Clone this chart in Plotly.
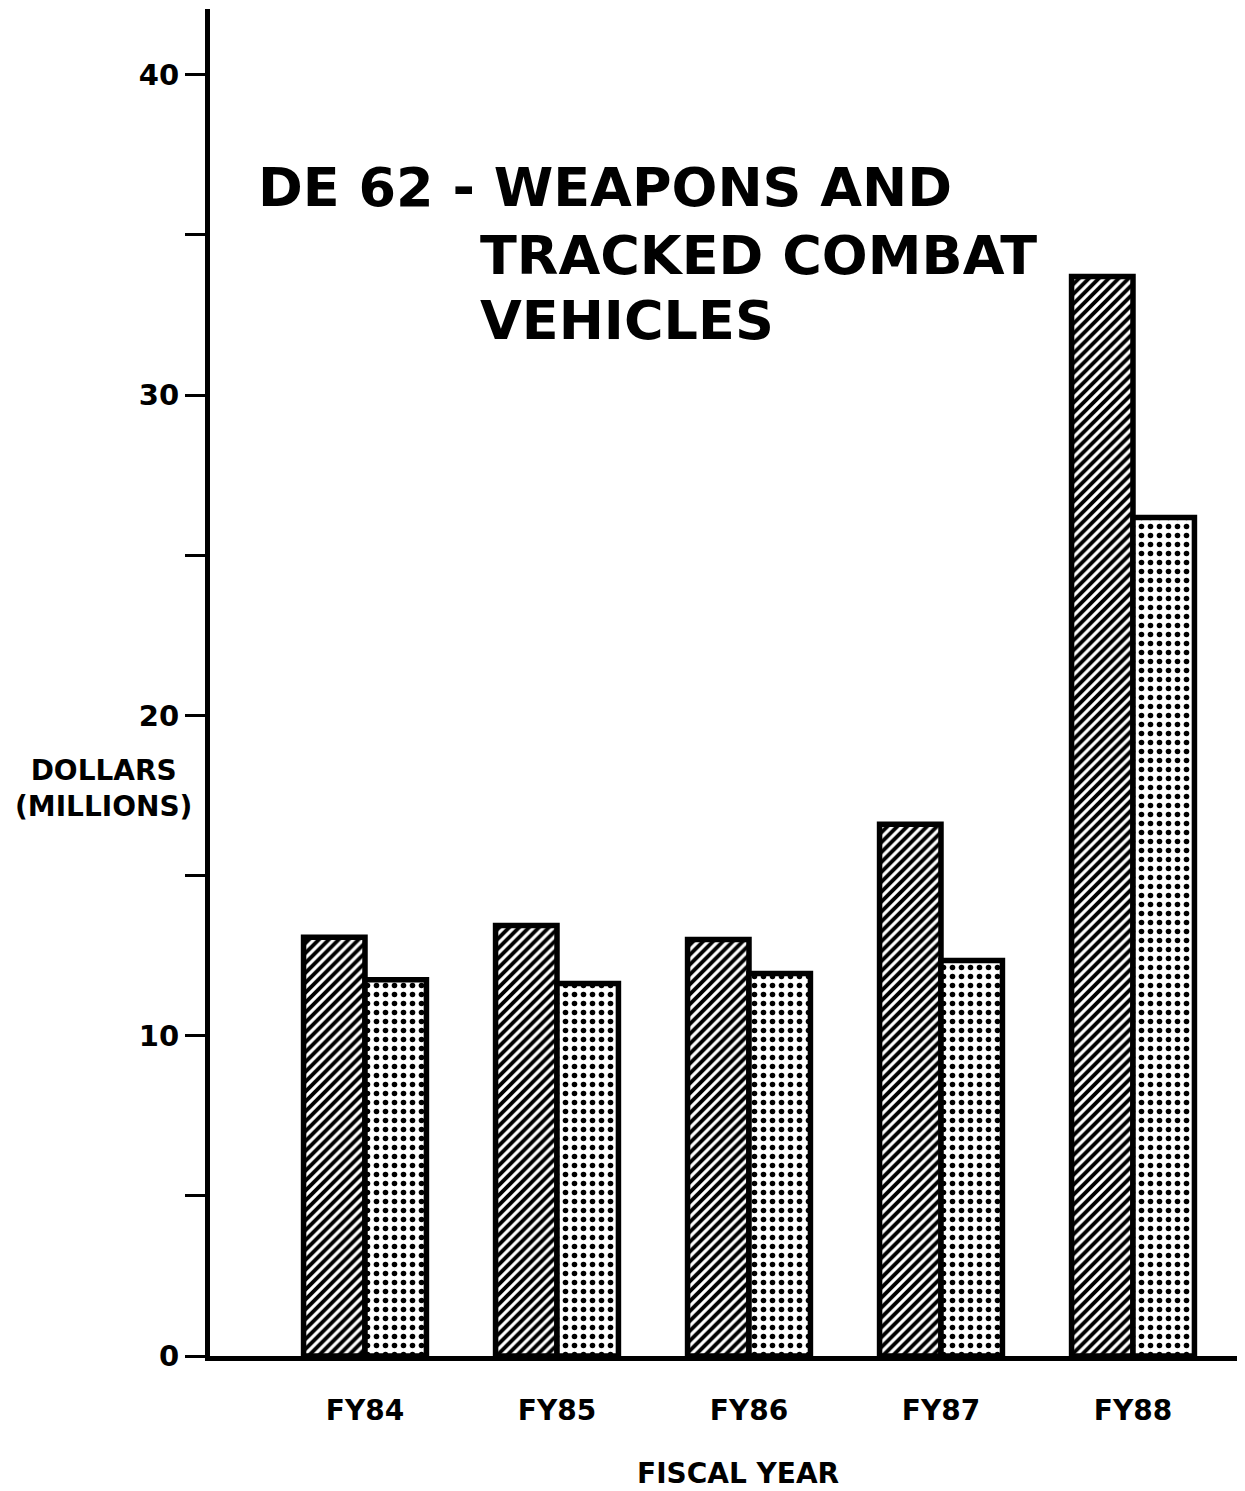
import plotly.graph_objects as go

categories = ["FY84", "FY85", "FY86", "FY87", "FY88"]
series_a = [13.07, 13.44, 13.0, 16.6, 33.7]   # hatched bars
series_b = [11.75, 11.63, 11.94, 12.35, 26.18]  # dotted bars
y_tickvals = [0, 5, 10, 15, 20, 25, 30, 35, 40]
y_ticktext = ["0", "", "10", "", "20", "", "30", "", "40"]
title_lines = ["DE 62 - WEAPONS AND", "TRACKED COMBAT", "VEHICLES"]

FONT = "DejaVu Sans"

fig = go.Figure()
fig.add_trace(go.Bar(
    x=categories, y=series_a, name="A",
    marker=dict(color="white",
                line=dict(color="black", width=5.5),
                pattern=dict(shape="/", fgcolor="black", bgcolor="white",
                             size=7, solidity=0.55, fillmode="replace")),
))
fig.add_trace(go.Bar(
    x=categories, y=series_b, name="B",
    marker=dict(color="white",
                line=dict(color="black", width=5.5),
                pattern=dict(shape=".", fgcolor="black", bgcolor="white",
                             size=9, solidity=0.3, fillmode="replace")),
))

# The page body adds an 8px offset; work in reference pixel coordinates.
OFF = 8
W, H = 1245 - OFF, 1491 - OFF
AX_LEFT, AX_TOP, AX_BOTTOM = 210, 9, 1356   # reference pixel positions
ML = AX_LEFT - OFF
MT = AX_TOP - OFF
MB = 1491 - AX_BOTTOM
MR = 0
plot_h = H - MT - MB
plot_w = W - ML - MR
px_per_unit = 32.03
ymax = plot_h / px_per_unit
cat_px = 192.0
x0 = -(365 - AX_LEFT) / cat_px
x1 = x0 + plot_w / cat_px

fig.update_layout(
    width=W, height=H,
    margin=dict(l=ML, r=MR, t=MT, b=MB, pad=0),
    paper_bgcolor="white", plot_bgcolor="white",
    barmode="group", bargap=0.36, bargroupgap=0.0,
    showlegend=False,
    font=dict(family=FONT, color="black"),
)
fig.update_xaxes(
    type="category", range=[x0, x1],
    showline=True, linecolor="black", linewidth=5,
    showgrid=False, zeroline=False, ticks="",
    tickfont=dict(family=FONT, size=28, weight="bold"),
    ticklabelstandoff=25,
)
fig.update_yaxes(
    range=[0, ymax],
    tickvals=y_tickvals, ticktext=y_ticktext,
    showline=True, linecolor="black", linewidth=5,
    showgrid=False, zeroline=False,
    ticks="outside", ticklen=20, tickwidth=3, tickcolor="black",
    tickfont=dict(family=FONT, size=29, weight="bold"),
)

def px_to_paper_x(px):
    return (px - AX_LEFT) / plot_w

def px_to_y(py):
    return (AX_BOTTOM - py) / px_per_unit

# Title lines
title_pos = [(256, 187), (478, 255), (478, 320)]
for text, (px, py) in zip(title_lines, title_pos):
    fig.add_annotation(text=text, xref="paper", yref="y",
                       x=px_to_paper_x(px), y=px_to_y(py),
                       xanchor="left", yanchor="middle", showarrow=False,
                       font=dict(family=FONT, size=54, weight="bold", color="black"))

# Y axis title
fig.add_annotation(text="DOLLARS<br>(MILLIONS)", xref="paper", yref="y",
                   x=px_to_paper_x(103), y=px_to_y(788),
                   xanchor="center", yanchor="middle", showarrow=False, align="center",
                   font=dict(family=FONT, size=28, weight="bold", color="black"))

# X axis title
fig.add_annotation(text="FISCAL YEAR", xref="paper", yref="paper",
                   x=px_to_paper_x(738), y=(AX_BOTTOM - 1473) / plot_h,
                   xanchor="center", yanchor="middle", showarrow=False,
                   font=dict(family=FONT, size=28, weight="bold", color="black"))

fig.write_html("out.html")
